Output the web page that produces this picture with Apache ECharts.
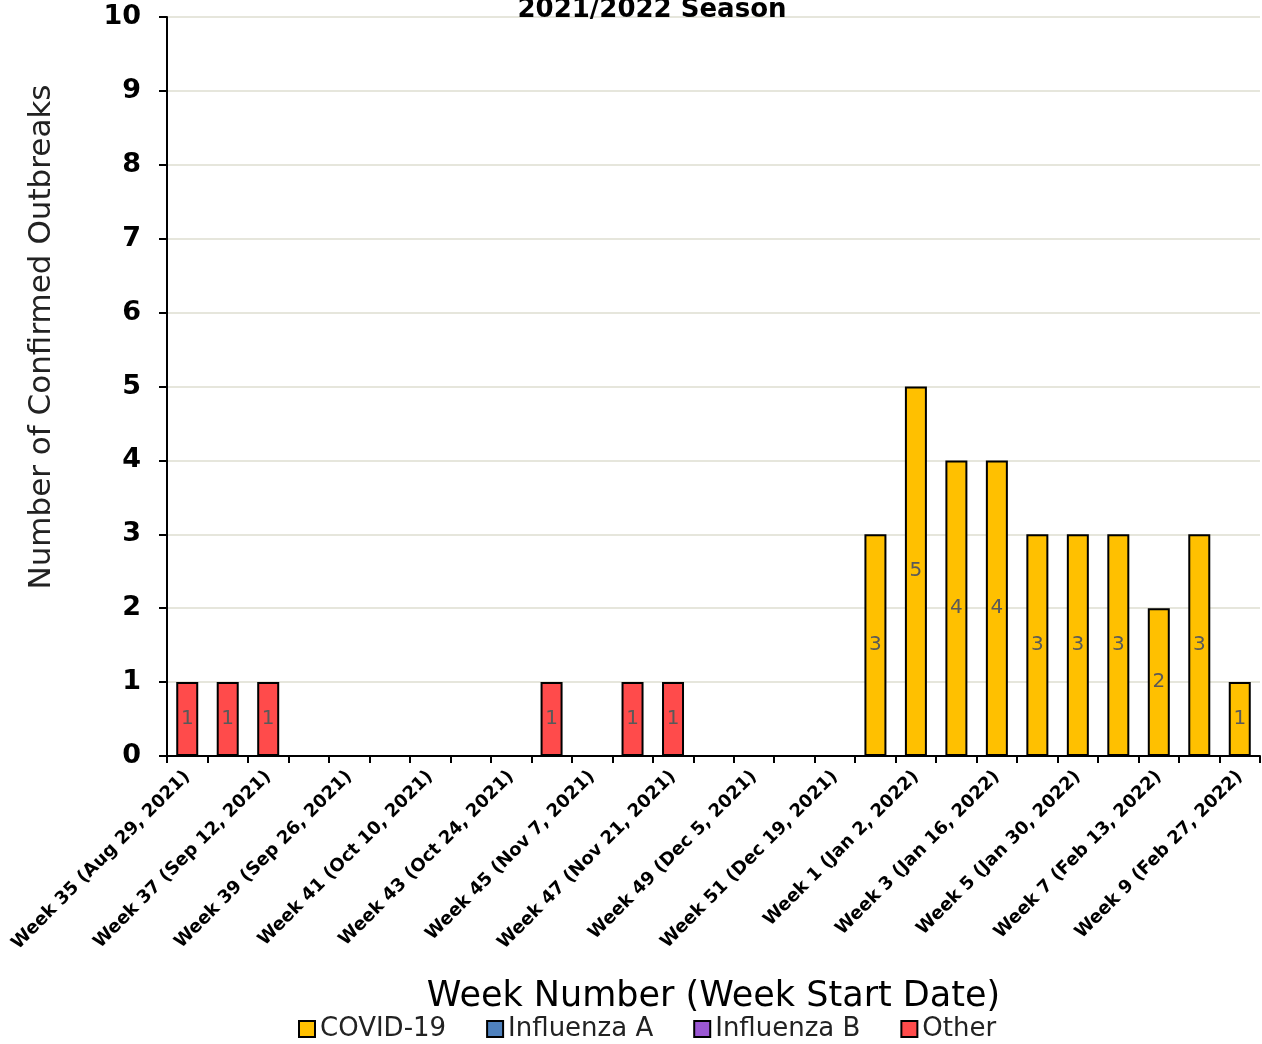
<!DOCTYPE html>
<html>
<head>
<meta charset="utf-8">
<script src="https://cdn.jsdelivr.net/npm/echarts@6/dist/echarts.min.js"></script>
<style>
  html, body { margin: 0; padding: 0; background: #fff; }
  #chart { width: 1262px; height: 1044px; }
</style>
</head>
<body>
<div id="chart"></div>
<script>
// weeks of the 2021/2022 season
var weeks = [35, 36, 37, 38, 39, 40, 41, 42, 43, 44, 45, 46, 47, 48, 49, 50, 51, 52, 1, 2, 3, 4, 5, 6, 7, 8, 9];
var startDates = ['Aug 29, 2021', 'Sep 5, 2021', 'Sep 12, 2021', 'Sep 19, 2021', 'Sep 26, 2021', 'Oct 3, 2021',
  'Oct 10, 2021', 'Oct 17, 2021', 'Oct 24, 2021', 'Oct 31, 2021', 'Nov 7, 2021', 'Nov 14, 2021', 'Nov 21, 2021',
  'Nov 28, 2021', 'Dec 5, 2021', 'Dec 12, 2021', 'Dec 19, 2021', 'Dec 26, 2021', 'Jan 2, 2022', 'Jan 9, 2022',
  'Jan 16, 2022', 'Jan 23, 2022', 'Jan 30, 2022', 'Feb 6, 2022', 'Feb 13, 2022', 'Feb 20, 2022', 'Feb 27, 2022'];

// outbreak counts (null = none)
var covid = [null, null, null, null, null, null, null, null, null, null, null, null, null, null, null, null, null, 3, 5, 4, 4, 3, 3, 3, 2, 3, 1];
var fluA  = [null, null, null, null, null, null, null, null, null, null, null, null, null, null, null, null, null, null, null, null, null, null, null, null, null, null, null];
var fluB  = [null, null, null, null, null, null, null, null, null, null, null, null, null, null, null, null, null, null, null, null, null, null, null, null, null, null, null];
var other = [1, 1, 1, null, null, null, null, null, null, 1, null, 1, 1, null, null, null, null, null, null, null, null, null, null, null, null, null, null];

var yTicks = [0, 10, 1]; // min, max, interval

var categories = weeks.map(function (w, i) { return 'Week ' + w + ' (' + startDates[i] + ')'; });

var font = '"DejaVu Sans", sans-serif';

function makeSeries(name, data, color) {
  return {
    name: name,
    type: 'bar',
    stack: 'total',
    data: data,
    barWidth: 22,
    itemStyle: { color: color, borderColor: '#000', borderWidth: 2 },
    label: {
      show: true,
      position: 'inside',
      color: '#595959',
      fontFamily: font,
      fontSize: 20
    }
  };
}

var myChart = echarts.init(document.getElementById('chart'));
myChart.setOption({
  animation: false,
  title: {
    text: '2021/2022 Season',
    left: 647,
    textAlign: 'center',
    top: -8,
    textStyle: { fontFamily: font, fontWeight: 'bold', fontSize: 26, color: '#000' }
  },
  // y axis title sits a bit above the plot centre in the original
  graphic: [{
    type: 'text',
    x: 42,
    y: 337,
    rotation: Math.PI / 2,
    style: {
      text: 'Number of Confirmed Outbreaks',
      fontFamily: font,
      fontSize: 31,
      fill: '#222',
      align: 'center',
      verticalAlign: 'middle'
    }
  }],
  grid: { left: 167, right: 2, top: 17, bottom: 288, containLabel: false },
  legend: {
    top: 1016,
    left: 298,
    icon: 'rect',
    itemWidth: 16,
    itemHeight: 16,
    itemGap: 40,
    padding: 0,
    textStyle: { fontFamily: font, fontSize: 26, color: '#222' },
    data: ['COVID-19', 'Influenza A', 'Influenza B', 'Other']
  },
  xAxis: {
    type: 'category',
    data: categories,
    name: 'Week Number (Week Start Date)',
    nameLocation: 'middle',
    nameGap: 223,
    nameTextStyle: { fontFamily: font, fontSize: 35, color: '#000' },
    axisLine: { lineStyle: { color: '#000', width: 2 } },
    axisTick: { show: true, interval: 0, length: 7, lineStyle: { color: '#000', width: 2 } },
    axisLabel: {
      interval: 1,
      rotate: 45,
      margin: 18,
      fontFamily: font,
      fontWeight: 'bold',
      fontSize: 18,
      color: '#000'
    }
  },
  yAxis: {
    type: 'value',
    min: yTicks[0],
    max: yTicks[1],
    interval: yTicks[2],
    axisLine: { show: true, lineStyle: { color: '#000', width: 2 } },
    axisTick: { show: true, length: 8, lineStyle: { color: '#000', width: 2 } },
    axisLabel: { fontFamily: font, fontWeight: 'bold', fontSize: 27, color: '#000', margin: 26 },
    splitLine: { lineStyle: { color: '#e6e6dc', width: 2 } }
  },
  series: [
    makeSeries('COVID-19', covid, '#FFC000'),
    makeSeries('Influenza A', fluA, '#4F81BD'),
    makeSeries('Influenza B', fluB, '#9B57D3'),
    makeSeries('Other', other, '#FF4B4B')
  ]
});
</script>
</body>
</html>
